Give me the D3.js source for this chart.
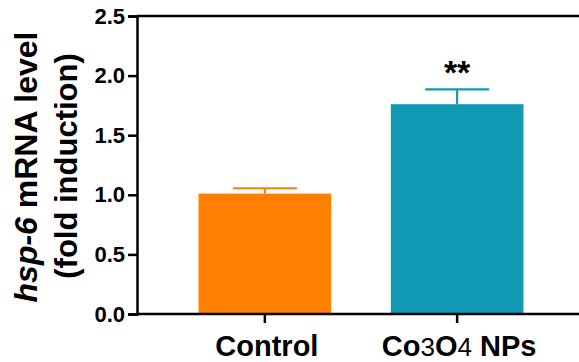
<!DOCTYPE html>
<html>
<head>
<meta charset="utf-8">
<script src="https://cdn.jsdelivr.net/npm/d3@7"></script>
<style>
  body { margin: 0; background: #fff; }
  svg { display: block; font-family: "Liberation Sans", Arial, sans-serif; }
</style>
</head>
<body>
<div id="chart"></div>
<script>
// data
const groups = ["Control", "Co3O4 NPs"];
const means = [1.01, 1.76];
const errors = [0.045, 0.125];
const colors = ["#FF8000", "#129AB5"];
const yTicks = [0, 0.5, 1.0, 1.5, 2.0, 2.5];
const marks = ["", "**"];

const width = 579, height = 362;
const svg = d3.select("#chart").append("svg")
  .attr("width", width)
  .attr("height", height);

const x = d3.scaleBand()
  .domain(groups)
  .range([137, 585])
  .paddingInner(0.31)
  .paddingOuter(0.32);

const y = d3.scaleLinear()
  .domain([0, 2.5])
  .range([314, 16]);

// bars
svg.append("g")
  .selectAll("rect")
  .data(groups)
  .join("rect")
  .attr("x", d => x(d))
  .attr("width", x.bandwidth())
  .attr("y", (d, i) => y(means[i]))
  .attr("height", (d, i) => y(0) - y(means[i]))
  .attr("fill", (d, i) => colors[i]);

// error bars (upper only)
const eb = svg.append("g").selectAll("g")
  .data(groups)
  .join("g")
  .attr("stroke", (d, i) => colors[i])
  .attr("stroke-width", 2.2);

eb.append("line")
  .attr("x1", d => x(d) + x.bandwidth() / 2)
  .attr("x2", d => x(d) + x.bandwidth() / 2)
  .attr("y1", (d, i) => y(means[i]))
  .attr("y2", (d, i) => y(means[i] + errors[i]));

eb.append("line")
  .attr("x1", d => x(d) + x.bandwidth() / 2 - 32)
  .attr("x2", d => x(d) + x.bandwidth() / 2 + 32)
  .attr("y1", (d, i) => y(means[i] + errors[i]))
  .attr("y2", (d, i) => y(means[i] + errors[i]));

// significance stars
svg.append("g")
  .selectAll("text")
  .data(groups)
  .join("text")
  .attr("x", d => x(d) + x.bandwidth() / 2)
  .attr("y", (d, i) => y(means[i] + errors[i]) - 5)
  .attr("text-anchor", "middle")
  .attr("font-size", 34)
  .attr("font-weight", "bold")
  .text((d, i) => marks[i]);

// y axis
const yAxis = svg.append("g")
  .attr("transform", `translate(137,0)`)
  .call(d3.axisLeft(y).tickValues(yTicks).tickFormat(d3.format(".1f")).tickSizeOuter(0).tickSize(9).tickPadding(3));
yAxis.select(".domain").attr("stroke-width", 2.5);
yAxis.selectAll(".tick line").attr("stroke-width", 2.5);
yAxis.selectAll(".tick text")
  .attr("font-size", 22)
  .attr("font-weight", "bold")
  .attr("font-family", "Liberation Sans, Arial, sans-serif")
  .attr("fill", "#000");

// top frame line
svg.append("line")
  .attr("x1", 137).attr("x2", width)
  .attr("y1", y(2.5)).attr("y2", y(2.5))
  .attr("stroke", "#000").attr("stroke-width", 2.5);

// x axis
const xAxis = svg.append("g")
  .attr("transform", `translate(0,${y(0)})`)
  .call(d3.axisBottom(x).tickSizeOuter(0).tickSize(9).tickFormat(""));
xAxis.select(".domain").attr("d", `M137,0H${width}`).attr("stroke-width", 2.5);
xAxis.selectAll(".tick line").attr("stroke-width", 2.5);

// x labels, with the formula digits drawn smaller and not bold
const xl = svg.append("g")
  .selectAll("text")
  .data(groups)
  .join("text")
  .attr("x", d => x(d) + x.bandwidth() / 2 + 2)
  .attr("y", 356)
  .attr("text-anchor", "middle")
  .attr("font-size", 29)
  .attr("font-weight", "bold")
  .attr("fill", "#000");

xl.each(function(d) {
  const t = d3.select(this);
  const parts = d.split(/(\d)/).filter(p => p !== "");
  parts.forEach(p => {
    const s = t.append("tspan").text(p);
    if (/^\d$/.test(p)) s.attr("font-weight", "normal").attr("font-size", 26);
  });
});

// y title
const yt = svg.append("text")
  .attr("transform", `translate(37,${(y(0) + y(2.5)) / 2 + 2}) rotate(-90)`)
  .attr("text-anchor", "middle")
  .attr("font-size", 32)
  .attr("font-weight", "bold")
  .attr("fill", "#000");
yt.append("tspan").attr("font-style", "italic").text("hsp-6");
yt.append("tspan").text(" mRNA level");

svg.append("text")
  .attr("transform", `translate(77,${(y(0) + y(2.5)) / 2 + 1}) rotate(-90)`)
  .attr("text-anchor", "middle")
  .attr("font-size", 31)
  .attr("font-weight", "bold")
  .attr("fill", "#000")
  .text("(fold induction)");
</script>
</body>
</html>
